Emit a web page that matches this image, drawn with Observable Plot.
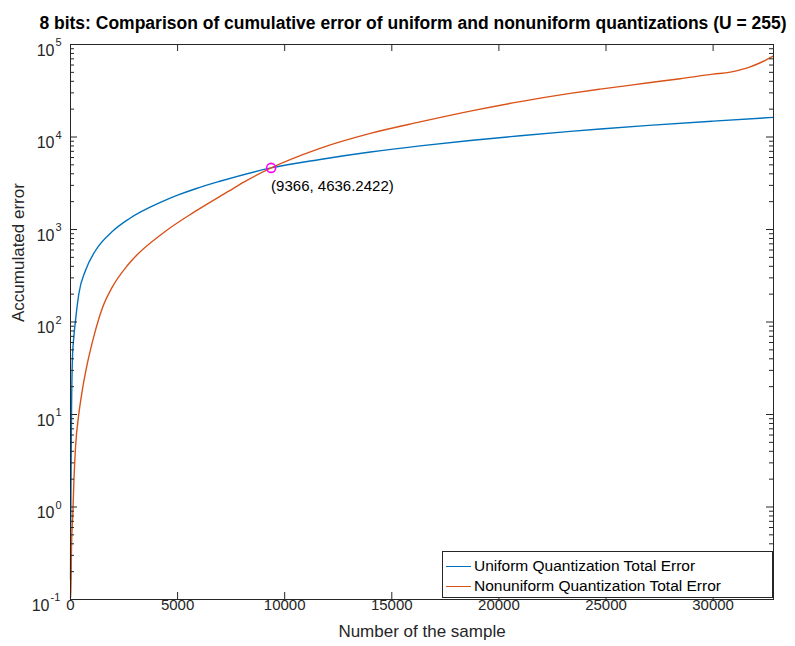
<!DOCTYPE html>
<html><head><meta charset="utf-8">
<script src="https://cdn.jsdelivr.net/npm/d3@7"></script>
<script src="https://cdn.jsdelivr.net/npm/@observablehq/plot@0.6"></script>
<style>
body{margin:0;background:#fff;}
#wrap{position:relative;width:795px;height:646px;font-family:"Liberation Sans",Arial,Helvetica,sans-serif;}
#legend{position:absolute;left:442px;top:551px;width:329px;height:45px;border:1px solid #262626;background:#fff;font-size:15.5px;color:#000;}
#legend .row{position:absolute;left:0;height:20px;display:flex;align-items:center;white-space:nowrap;}
#legend .sw{display:inline-block;width:25px;height:0;border-top:1.5px solid;margin-left:3px;margin-right:3px;}
</style></head><body><div id="wrap"></div>
<script>
const chartTitle = "8 bits: Comparison of cumulative error of uniform and nonuniform quantizations (U = 255)";
const xLabel = "Number of the sample";
const yLabel = "Accumulated error";
const seriesNames = ["Uniform Quantization Total Error", "Nonuniform Quantization Total Error"];
const seriesColors = ["#0072BD", "#D95319"];

const uniformSample = [2, 10, 20, 35, 47, 90, 158, 234, 390, 700, 1170, 1950, 2725, 4280, 5000, 5840, 6930, 9366, 11650, 14000, 16320, 18660, 21000, 23330, 24730, 27000, 30000, 32800];
const uniformError  = [0.165, 0.5, 1.3, 4, 10, 40, 70, 104, 202, 360, 593, 950, 1300, 2000, 2350, 2760, 3300, 4636.2422, 5720, 6880, 8020, 9170, 10330, 11500, 12200, 13350, 14850, 16300];

const nonuniformSample = [3, 25, 47, 110, 158, 234, 390, 546, 780, 1090, 1480, 1950, 2725, 4280, 5840, 7390, 8090, 9366, 11650, 14000, 16320, 18660, 21000, 23330, 24730, 26900, 28460, 30010, 30800, 31300, 31700, 32200, 32500, 32800];
const nonuniformError  = [0.105, 0.15, 0.37, 0.85, 1.9, 4.4, 10.2, 18, 35, 70, 140, 238, 426, 900, 1580, 2600, 3250, 4636.2422, 7550, 10950, 14560, 19050, 24150, 29600, 32900, 38300, 42700, 47800, 50300, 53500, 57000, 63500, 68800, 75000];

const crossSample = [9366];
const crossError = [4636.2422];
const crossLabel = ["(9366, 4636.2422)"];

const xTicks = [0, 5000, 10000, 15000, 20000, 25000, 30000];
const yTickExponents = [-1, 0, 1, 2, 3, 4, 5];
const xDomain = [0, 32820];
const yDomain = [0.1, 100000];

const W = 795, H = 646, mL = 70, mR = 22, mT = 44, mB = 47;
const fw = W - mL - mR, fh = H - mT - mB;
const axisColor = "#262626";

const uniform = uniformSample.map((s, i) => ({s, e: uniformError[i]}));
const nonuniform = nonuniformSample.map((s, i) => ({s, e: nonuniformError[i]}));
const cross = crossSample.map((s, i) => ({s, e: crossError[i], t: crossLabel[i]}));
const yTicks = yTickExponents.map(k => Math.pow(10, k));
const yMinor = [];
yTickExponents.slice(0, -1).forEach(k => { for (let m = 2; m <= 9; m++) yMinor.push(m * Math.pow(10, k)); });
const yPos = yTickExponents.filter(k => k >= 0).map(k => ({v: Math.pow(10, k), k}));
const yNeg = yTickExponents.filter(k => k < 0).map(k => ({v: Math.pow(10, k), k}));

const plot = Plot.plot({
  width: W, height: H,
  marginLeft: mL, marginRight: mR, marginTop: mT, marginBottom: mB,
  style: {fontFamily: '"Liberation Sans", Arial, Helvetica, sans-serif', fontSize: "15px", background: "white", overflow: "visible"},
  x: {domain: xDomain, axis: null},
  y: {type: "log", domain: yDomain, axis: null},
  marks: [
    Plot.line(uniform, {x: "s", y: "e", stroke: seriesColors[0], strokeWidth: 1.4, curve: "monotone-x"}),
    Plot.line(nonuniform, {x: "s", y: "e", stroke: seriesColors[1], strokeWidth: 1.4, curve: "monotone-x"}),
    Plot.dot(cross, {x: "s", y: "e", r: 4.5, stroke: "#FF00FF", strokeWidth: 1.6, fill: "none"}),
    Plot.text(cross, {x: "s", y: "e", text: "t", textAnchor: "start", dx: 0, dy: 18, fill: "#000", fontSize: 15}),
    // ticks (inward, all four sides)
    Plot.ruleX(xTicks, {x: d => d, insetTop: fh - 7, stroke: axisColor}),
    Plot.ruleX(xTicks, {x: d => d, insetBottom: fh - 7, stroke: axisColor}),
    Plot.ruleY(yTicks, {y: d => d, insetRight: fw - 7, stroke: axisColor}),
    Plot.ruleY(yTicks, {y: d => d, insetLeft: fw - 7, stroke: axisColor}),
    Plot.ruleY(yMinor, {y: d => d, insetRight: fw - 4, stroke: axisColor}),
    Plot.ruleY(yMinor, {y: d => d, insetLeft: fw - 4, stroke: axisColor}),
    Plot.frame({stroke: axisColor, strokeWidth: 1}),
    // x tick labels
    Plot.text(xTicks, {x: d => d, frameAnchor: "bottom", dy: 10, text: d => String(d), fill: axisColor, fontSize: 15}),
    // y tick labels: base and exponent
    Plot.text(yPos, {y: "v", frameAnchor: "left", dx: -16, dy: 6, textAnchor: "end", text: d => "10", fill: axisColor, fontSize: 16}),
    Plot.text(yPos, {y: "v", frameAnchor: "left", dx: -15, dy: -2, textAnchor: "start", text: d => String(d.k), fill: axisColor, fontSize: 11}),
    Plot.text(yNeg, {y: "v", frameAnchor: "left", dx: -21, dy: 6, textAnchor: "end", text: d => "10", fill: axisColor, fontSize: 16}),
    Plot.text(yNeg, {y: "v", frameAnchor: "left", dx: -20, dy: -2, textAnchor: "start", text: d => "-" + String(-d.k), fill: axisColor, fontSize: 11}),
    // axis labels and title
    Plot.text([xLabel], {frameAnchor: "bottom", text: d => d, dy: 37, fill: axisColor, fontSize: 17}),
    Plot.text([yLabel], {frameAnchor: "left", text: d => d, rotate: -90, dx: -52, fill: axisColor, fontSize: 17}),
    Plot.text([chartTitle], {frameAnchor: "top", text: d => d, dy: -28, dx: -9, fill: "#000", fontSize: 17.5, fontWeight: "bold"})
  ]
});

const wrap = document.getElementById("wrap");
wrap.appendChild(plot);
const legend = document.createElement("div");
legend.id = "legend";
seriesNames.forEach((name, i) => {
  const row = document.createElement("div");
  row.className = "row";
  row.style.top = (4 + i * 20) + "px";
  const sw = document.createElement("span");
  sw.className = "sw";
  sw.style.borderTopColor = seriesColors[i];
  row.appendChild(sw);
  const t = document.createElement("span");
  t.textContent = name;
  row.appendChild(t);
  legend.appendChild(row);
});
wrap.appendChild(legend);
</script>
</body></html>
